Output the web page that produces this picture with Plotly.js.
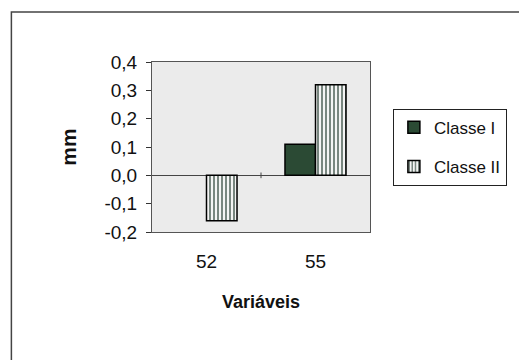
<!DOCTYPE html>
<html>
<head>
<meta charset="utf-8">
<script src="https://cdn.plot.ly/plotly-3.0.1.min.js"></script>
<style>html,body{margin:0;padding:0;background:#fff;}#chart{width:519px;height:360px;}</style>
</head>
<body>
<div id="chart"></div>
<script>
var categories = ['52', '55'];
var seriesNames = ['Classe I', 'Classe II'];
var classeI = [null, 0.11];
var classeII = [-0.16, 0.32];
var yTickVals = [-0.2, -0.1, 0, 0.1, 0.2, 0.3, 0.4];
var yTickText = ['-0,2', '-0,1', '0,0', '0,1', '0,2', '0,3', '0,4'];

var FONT = 'Liberation Sans, Arial, sans-serif';

var traces = [
  {
    type: 'bar', name: seriesNames[0], x: categories, y: classeI,
    legendgroup: 'a',
    marker: {color: '#2b4a34', line: {color: '#000', width: 1.5}},
    hoverinfo: 'skip'
  },
  {
    type: 'bar', name: seriesNames[1], x: categories, y: classeII,
    legendgroup: 'b',
    marker: {
      color: '#ffffff',
      line: {color: '#000', width: 1.5},
      pattern: {shape: '|', fgcolor: '#6a7a72', bgcolor: '#f4f4f4', size: 4, solidity: 0.45}
    },
    hoverinfo: 'skip'
  }
];

var layout = {
  width: 519, height: 360,
  margin: {l: 152, r: 147, t: 62, b: 128},
  paper_bgcolor: '#ffffff',
  plot_bgcolor: '#ebebeb',
  separators: ',.',
  font: {family: FONT, color: '#111', size: 19},
  barmode: 'group',
  bargap: 0.44,
  bargroupgap: 0,
  showlegend: true,
  legend: {
    x: 1.105, y: 0.725, xanchor: 'left', yanchor: 'top',
    bordercolor: '#222', borderwidth: 1, bgcolor: '#ffffff',
    font: {family: FONT, size: 17, color: '#111'},
    traceorder: 'grouped', tracegroupgap: 14,
    itemwidth: 30
  },
  xaxis: {
    type: 'category',
    showline: true, mirror: true, linecolor: '#555', linewidth: 1,
    ticks: 'outside', ticklen: 12, tickcolor: 'rgba(0,0,0,0)',
    showgrid: false, zeroline: false,
    tickfont: {family: FONT, size: 19},
    title: {text: '<b>Variáveis</b>', font: {family: FONT, size: 18}, standoff: 24}
  },
  yaxis: {
    range: [-0.2, 0.4],
    tickvals: yTickVals, ticktext: yTickText,
    showline: true, mirror: true, linecolor: '#555', linewidth: 1,
    ticks: 'outside', ticklen: 5, tickcolor: '#333',
    ticklabelstandoff: 5,
    showgrid: false,
    zeroline: true, zerolinecolor: '#444', zerolinewidth: 1,
    tickfont: {family: FONT, size: 19},
    title: {text: '<b>mm</b>', font: {family: FONT, size: 21}, standoff: 22}
  },
  shapes: [
    {type: 'line', xref: 'x', yref: 'y', x0: 0.5, x1: 0.5, y0: -0.01, y1: 0.01,
     line: {color: '#444', width: 1}},
    {type: 'rect', xref: 'paper', yref: 'paper', x0: -0.645, x1: 3, y0: -2, y1: 1.294,
     line: {color: '#444', width: 1.5}, fillcolor: 'rgba(0,0,0,0)', layer: 'below'}
  ]
};

Plotly.newPlot('chart', traces, layout, {displayModeBar: false, staticPlot: true});
</script>
</body>
</html>
